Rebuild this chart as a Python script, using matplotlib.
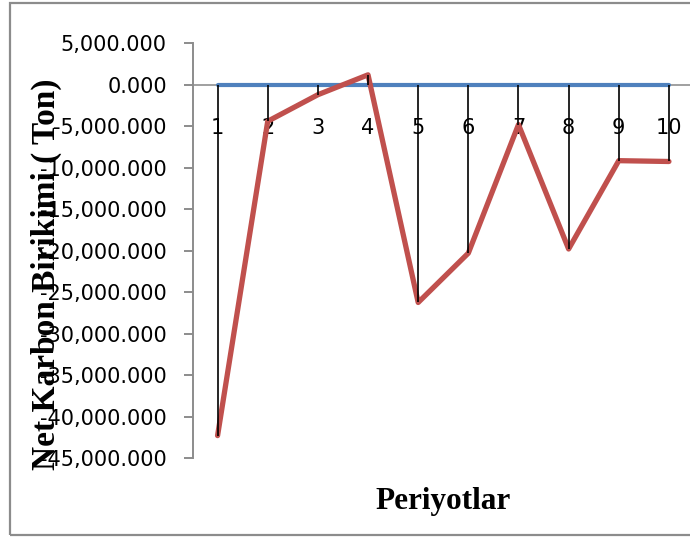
import matplotlib.pyplot as plt
from matplotlib.patches import Rectangle
from matplotlib.ticker import FuncFormatter

# Net carbon accumulation per period (tonnes)
periods = [1, 2, 3, 4, 5, 6, 7, 8, 9, 10]
net_carbon = [-42300, -4400, -1200, 1200, -26250, -20300, -4800, -19800, -9150, -9250]
baseline = [0, 0, 0, 0, 0, 0, 0, 0, 0, 0]
y_ticks = [5000, 0, -5000, -10000, -15000, -20000, -25000, -30000, -35000, -40000, -45000]

W, H = 690, 537
fig = plt.figure(figsize=(W / 100, H / 100), dpi=100)

# outer chart border
fig.patches.append(Rectangle((10 / W, 2 / H), 1.0, (H - 5) / H, transform=fig.transFigure,
                             fill=False, edgecolor='#8c8c8c', linewidth=1.6))

ax = fig.add_axes([192.5 / W, 79 / H, (694 - 192.5) / W, (493.7 - 79) / H])

ax.plot(periods, baseline, color='#4F81BD', linewidth=3.0, solid_capstyle='round', zorder=3)
ax.plot(periods, net_carbon, color='#C0504D', linewidth=3.8,
        solid_capstyle='round', solid_joinstyle='round', zorder=4)
ax.vlines(periods, baseline, net_carbon, colors='black', linewidth=1.2, zorder=5)

ax.set_xlim(0.5, 10.5)
ax.set_ylim(-45000, 5000)
ax.set_yticks(y_ticks)
ax.yaxis.set_major_formatter(FuncFormatter(lambda v, p: f"{v:,.3f}"))

for s in ['top', 'right']:
    ax.spines[s].set_visible(False)
ax.spines['left'].set_color('#8c8c8c')
ax.spines['left'].set_linewidth(1.4)
ax.spines['bottom'].set_position(('data', 0))
ax.spines['bottom'].set_color('#a0a0a0')
ax.spines['bottom'].set_linewidth(1.4)
ax.spines['bottom'].set_zorder(2)

ax.tick_params(axis='y', direction='out', length=6.5, width=1.4, color='#8c8c8c',
               pad=12, labelsize=15)
ax.set_xticks(periods)
ax.set_xticklabels([str(p) for p in periods])
ax.tick_params(axis='x', length=0, pad=24, labelsize=15)

fig.text(46 / W, 1 - 274 / H, 'Net Karbon Birikimi ( Ton)', rotation=90,
         ha='center', va='center', fontsize=24, fontweight='bold', family='Liberation Serif')
fig.text(443 / W, 1 - 501 / H, 'Periyotlar', ha='center', va='center',
         fontsize=22.5, fontweight='bold', family='Liberation Serif')

fig.savefig('out.png', dpi=100)
